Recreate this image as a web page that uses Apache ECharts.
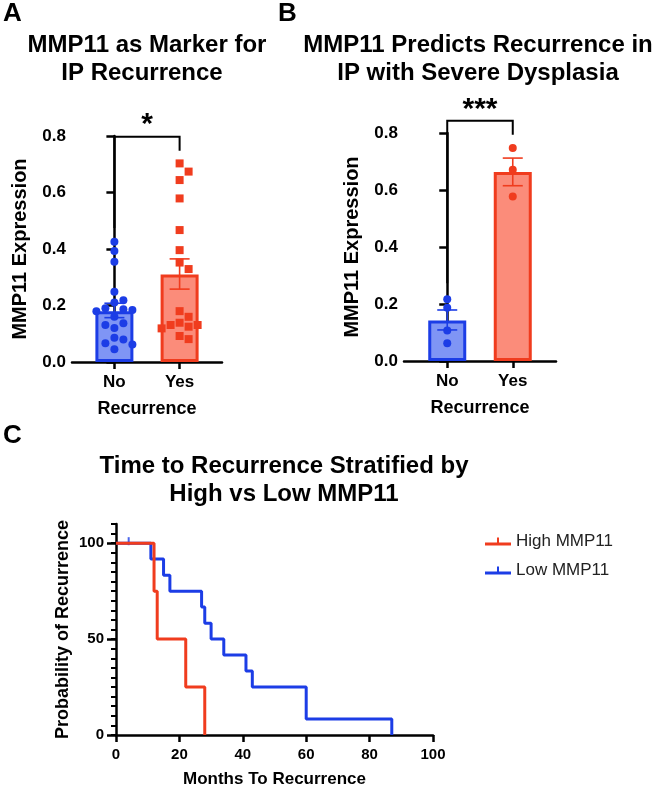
<!DOCTYPE html>
<html>
<head>
<meta charset="utf-8">
<style>
  html, body { margin: 0; padding: 0; background: #fff; }
  #main { width: 661px; height: 791px; }
</style>
<script src="https://cdn.jsdelivr.net/npm/echarts@6/dist/echarts.min.js"></script>
</head>
<body>
<div id="main"></div>
<script>
// ---- data ----
let groups = ['No', 'Yes'];

// panel A: individual samples
let aNo = [0.426, 0.393, 0.355, 0.249, 0.219, 0.211, 0.19, 0.187, 0.184, 0.18, 0.16, 0.137, 0.131, 0.12, 0.086, 0.08, 0.066, 0.062, 0.045];
let aYes = [0.703, 0.674, 0.644, 0.579, 0.467, 0.396, 0.352, 0.329, 0.18, 0.16, 0.139, 0.131, 0.131, 0.125, 0.119, 0.092, 0.081];
let aMean = [0.18, 0.31];
let aSemLow = [0.157, 0.258];
let aSemHigh = [0.208, 0.365];
let aBracket = [0.474, 0.797, 0.748]; // left foot, top, right foot
let aStars = '*';

// panel B
let bNo = [0.217, 0.187, 0.107, 0.062];
let bYes = [0.747, 0.671, 0.577];
let bMean = [0.142, 0.663];
let bSemLow = [0.109, 0.615];
let bSemHigh = [0.179, 0.712];
let bBracket = [0.273, 0.843, 0.794];
let bStars = '***';

// panel C: Kaplan-Meier steps (months, %)
let highTimes = [0, 12, 13, 22, 28];
let highSurv = [100, 75, 50, 25, 0];
let lowTimes = [0, 11, 15, 17, 27, 28, 30, 34, 41, 43, 60, 87];
let lowSurv = [100, 91.7, 83.3, 75, 66.7, 58.3, 50, 41.7, 33.3, 25, 8.3, 0];
let lowCensor = [[4, 100]];

let yLabelsC = [0, 50, 100];

// ---- styling ----
const BLUE = '#1c3de6';
const RED = '#f03c1e';
const BLUE_FILL = '#7f95f5';
const RED_FILL = '#fb8c7a';
const FONT = '"Liberation Sans", Arial, Helvetica, sans-serif';

let chart = echarts.init(document.getElementById('main'));

// simple beeswarm: spread points sideways when they would overlap
function swarm(vals, idx, pxPerX, pxPerY, d) {
    let placed = [];
    return vals.map(v => {
        let off = 0;
        for (let k = 0; k < 30; k++) {
            let cand = k === 0 ? 0 : (k % 2 ? 1 : -1) * Math.ceil(k / 2) * d;
            let ok = placed.every(p => Math.hypot(p[0] - cand, (p[1] - v) * pxPerY) >= d);
            if (ok) { off = cand; break; }
        }
        placed.push([off, v]);
        return [idx + off / pxPerX, v];
    });
}

function errorBars(gridIdx, low, high, colors) {
    return {
        type: 'custom',
        xAxisIndex: gridIdx, yAxisIndex: gridIdx,
        z: 5,
        data: low.map((l, i) => [i, l, high[i]]),
        renderItem: function (params, api) {
            let x = api.value(0);
            let lo = api.coord([x, api.value(1)]);
            let hi = api.coord([x, api.value(2)]);
            let c = colors[params.dataIndex];
            let st = { stroke: c, lineWidth: 1.6 };
            return {
                type: 'group',
                children: [
                    { type: 'line', shape: { x1: lo[0], y1: lo[1], x2: hi[0], y2: hi[1] }, style: st },
                    { type: 'line', shape: { x1: lo[0] - 10, y1: lo[1], x2: lo[0] + 10, y2: lo[1] }, style: st },
                    { type: 'line', shape: { x1: hi[0] - 10, y1: hi[1], x2: hi[0] + 10, y2: hi[1] }, style: st }
                ]
            };
        }
    };
}

function bracket(gridIdx, b, stars, starY) {
    return {
        type: 'custom',
        xAxisIndex: gridIdx, yAxisIndex: gridIdx,
        clip: false,
        silent: true,
        data: [[0, b[0], b[1], b[2]]],
        renderItem: function (params, api) {
            let p1 = api.coord([0, api.value(1)]);
            let p2 = api.coord([0, api.value(2)]);
            let p3 = api.coord([1, api.value(2)]);
            let p4 = api.coord([1, api.value(3)]);
            let s = api.coord([0.5, starY]);
            return {
                type: 'group',
                children: [
                    { type: 'polyline', shape: { points: [p1, p2, p3, p4] }, style: { stroke: '#000', lineWidth: 2, fill: null } },
                    { type: 'text', x: s[0], y: s[1], style: { text: stars, font: 'bold 30px ' + FONT, fill: '#000', align: 'center', verticalAlign: 'middle' } }
                ]
            };
        }
    };
}

function barAxisX(gridIdx, min, max) {
    return {
        gridIndex: gridIdx, type: 'value', min: min, max: max,
        splitLine: { show: false },
        axisLine: { show: true, lineStyle: { color: '#000', width: 2.5 } },
        axisTick: { show: true, customValues: [0, 1], length: 7, lineStyle: { color: '#000', width: 2.5 } },
        axisLabel: { customValues: [0, 1], formatter: v => groups[Math.round(v)], color: '#000', fontSize: 17, fontWeight: 'bold', fontFamily: FONT, margin: 12 },
        name: 'Recurrence', nameLocation: 'middle', nameGap: 38,
        nameTextStyle: { color: '#000', fontSize: 18, fontWeight: 'bold', fontFamily: FONT }
    };
}

function barAxisY(gridIdx) {
    return {
        gridIndex: gridIdx, type: 'value', min: 0, max: 0.8, interval: 0.2,
        splitLine: { show: false },
        axisLine: { show: true, lineStyle: { color: '#000', width: 2.5 } },
        axisTick: { show: true, length: 8, lineStyle: { color: '#000', width: 2.5 } },
        axisLabel: { formatter: v => v.toFixed(1), color: '#000', fontSize: 17, fontWeight: 'bold', fontFamily: FONT, margin: 6 },
        name: 'MMP11 Expression', nameLocation: 'middle', nameGap: 42,
        nameTextStyle: { color: '#000', fontSize: 20, fontWeight: 'bold', fontFamily: FONT }
    };
}

function barSeries(gridIdx, means) {
    return {
        type: 'bar',
        xAxisIndex: gridIdx, yAxisIndex: gridIdx,
        barWidth: 38,
        data: means.map((m, i) => ({
            value: [i, m],
            itemStyle: { color: i ? RED_FILL : BLUE_FILL, borderColor: i ? RED : BLUE, borderWidth: 3 }
        }))
    };
}

function dots(gridIdx, pts, color, symbol, size) {
    return {
        type: 'scatter',
        xAxisIndex: gridIdx, yAxisIndex: gridIdx,
        symbol: symbol, symbolSize: size, z: 4,
        itemStyle: { color: color, opacity: 1 },
        data: pts
    };
}

// pixels per unit (for the swarm only)
const PXX = 65.2, PXY_A = 282.5;

let minorC = [];
for (let v = 0; v <= 110; v += 5) minorC.push(v);

let titleText = (t, x, y, size, align) => ({
    type: 'text', x: x, y: y,
    style: { text: t, font: 'bold ' + size + 'px ' + FONT, fill: '#000', align: align || 'center', verticalAlign: 'middle' }
});

let legendIcon = 'path://M0,5h26v3h-26z M12,0h2v5h-2z';

chart.setOption({
    animation: false,
    textStyle: { fontFamily: FONT },
    graphic: [
        titleText('A', 3, 14, 26, 'left'),
        titleText('MMP11 as Marker for', 147, 45, 24),
        titleText('IP Recurrence', 142, 73, 24),
        titleText('B', 278, 14, 26, 'left'),
        titleText('MMP11 Predicts Recurrence in', 478, 45, 24),
        titleText('IP with Severe Dysplasia', 478, 73, 24),
        titleText('C', 3, 436, 26, 'left'),
        titleText('Time to Recurrence Stratified by', 284, 466, 24),
        titleText('High vs Low MMP11', 284, 494, 24)
    ],
    grid: [
        { left: 72, top: 136, width: 150, height: 226 },
        { left: 404, top: 133, width: 152, height: 228 },
        { left: 116, top: 524, width: 317, height: 211 }
    ],
    legend: {
        data: ['High MMP11', 'Low MMP11'],
        orient: 'vertical',
        left: 480, top: 528,
        itemWidth: 26, itemHeight: 8, itemGap: 12,
        icon: legendIcon,
        textStyle: { color: '#222', fontSize: 17, fontFamily: FONT }
    },
    xAxis: [
        barAxisX(0, -0.65, 1.65),
        barAxisX(1, -0.66, 1.66),
        {
            gridIndex: 2, type: 'value', min: 0, max: 100, interval: 20,
            splitLine: { show: false },
            axisLine: { show: true, lineStyle: { color: '#000', width: 2.5 } },
            axisTick: { show: true, length: 7, lineStyle: { color: '#000', width: 2.5 } },
            axisLabel: { color: '#000', fontSize: 15, fontWeight: 'bold', fontFamily: FONT, margin: 12 },
            name: 'Months To Recurrence', nameLocation: 'middle', nameGap: 36,
            nameTextStyle: { color: '#000', fontSize: 17, fontWeight: 'bold', fontFamily: FONT }
        }
    ],
    yAxis: [
        barAxisY(0),
        barAxisY(1),
        {
            gridIndex: 2, type: 'value', min: 0, max: 110,
            splitLine: { show: false },
            axisLine: { show: true, lineStyle: { color: '#000', width: 2.5 } },
            axisTick: { show: true, customValues: yLabelsC, length: 9, lineStyle: { color: '#000', width: 2.5 } },
            axisLabel: { customValues: yLabelsC, color: '#000', fontSize: 15, fontWeight: 'bold', fontFamily: FONT, margin: 12 },
            name: 'Probability of Recurrence', nameLocation: 'middle', nameGap: 44,
            nameTextStyle: { color: '#000', fontSize: 18, fontWeight: 'bold', fontFamily: FONT }
        },
        {
            gridIndex: 2, type: 'value', min: 0, max: 110, position: 'left', offset: 0,
            splitLine: { show: false },
            axisLine: { show: false },
            axisTick: { show: true, customValues: minorC, length: 5, lineStyle: { color: '#000', width: 2 } },
            axisLabel: { show: false }
        }
    ],
    series: [
        barSeries(0, aMean),
        dots(0, swarm(aNo, 0, PXX, PXY_A, 9), BLUE, 'circle', 8),
        dots(0, swarm(aYes, 1, PXX, PXY_A, 9), RED, 'rect', 8),
        errorBars(0, aSemLow, aSemHigh, [BLUE, RED]),
        bracket(0, aBracket, aStars, 0.84),

        barSeries(1, bMean),
        dots(1, bNo.map(v => [0, v]), BLUE, 'circle', 8),
        dots(1, bYes.map(v => [1, v]), RED, 'circle', 8),
        errorBars(1, bSemLow, bSemHigh, [BLUE, RED]),
        bracket(1, bBracket, bStars, 0.88),

        {
            name: 'Low MMP11', type: 'line', step: 'end',
            xAxisIndex: 2, yAxisIndex: 2,
            symbol: 'none', color: BLUE,
            lineStyle: { color: BLUE, width: 3 },
            data: lowTimes.map((t, i) => [t, lowSurv[i]])
        },
        {
            name: 'Low MMP11', type: 'scatter',
            xAxisIndex: 2, yAxisIndex: 2,
            symbol: 'rect', symbolSize: [2, 8], symbolOffset: [0, -2],
            itemStyle: { color: BLUE },
            data: lowCensor
        },
        {
            name: 'High MMP11', type: 'line', step: 'end',
            xAxisIndex: 2, yAxisIndex: 2,
            symbol: 'none', color: RED,
            lineStyle: { color: RED, width: 3 },
            data: highTimes.map((t, i) => [t, highSurv[i]])
        }
    ]
});
</script>
</body>
</html>
